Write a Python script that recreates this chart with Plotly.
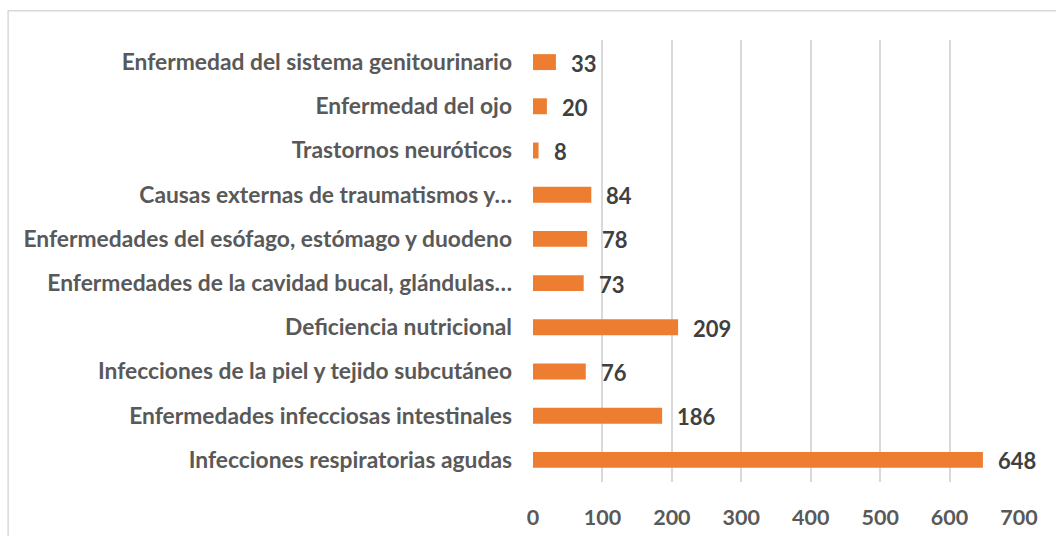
import plotly.graph_objects as go

categories = [
    "Infecciones respiratorias agudas",
    "Enfermedades infecciosas intestinales",
    "Infecciones de la piel y tejido subcutáneo",
    "Deficiencia nutricional",
    "Enfermedades de la cavidad bucal, glándulas…",
    "Enfermedades del esófago, estómago y duodeno",
    "Causas externas de traumatismos y…",
    "Trastornos neuróticos",
    "Enfermedad del ojo",
    "Enfermedad del sistema genitourinario",
]
cases = [648, 186, 76, 209, 73, 78, 84, 8, 20, 33]
x_ticks = [0, 100, 200, 300, 400, 500, 600, 700]

FONT = "Lato"

fig = go.Figure(
    go.Bar(
        x=cases,
        y=categories,
        orientation="h",
        marker=dict(color="#ED7D31", line=dict(width=0)),
        width=0.36,
        hoverinfo="x+y",
    )
)

# value labels placed just beyond each bar end
for cat, val in zip(categories, cases):
    fig.add_annotation(
        x=val, y=cat, text=f"<b>{val}</b>", showarrow=False,
        xanchor="left", xshift=13, yshift=-1,
        font=dict(family=FONT, size=22, color="#404040"),
    )

# chart frame
fig.add_shape(
    type="rect", xref="paper", yref="paper",
    x0=-1.080, x1=1.2, y0=-0.2, y1=1.066,
    line=dict(color="#D9D9D9", width=1.5), layer="below",
)

fig.update_layout(
    width=1056, height=536,
    margin=dict(l=533, r=37, t=40, b=54),
    paper_bgcolor="white", plot_bgcolor="white",
    showlegend=False,
    font=dict(family=FONT),
    xaxis=dict(
        range=[0, 700], tickvals=x_ticks,
        ticktext=[f"<b>{t}</b>" for t in x_ticks],
        showgrid=True, gridcolor="#D9D9D9", gridwidth=1.5,
        zeroline=False, showline=False, ticks="",
        tickfont=dict(family=FONT, size=21.5, color="#595959"),
        ticklabelstandoff=20, automargin=False,
    ),
    yaxis=dict(
        categoryorder="array", categoryarray=categories,
        ticktext=[f"<b>{c}</b>" for c in categories], tickvals=categories,
        showgrid=False, zeroline=False, showline=False, ticks="",
        tickfont=dict(family=FONT, size=22.8, color="#595959"),
        ticklabelstandoff=20, automargin=False,
    ),
)

fig.write_html("out.html")
